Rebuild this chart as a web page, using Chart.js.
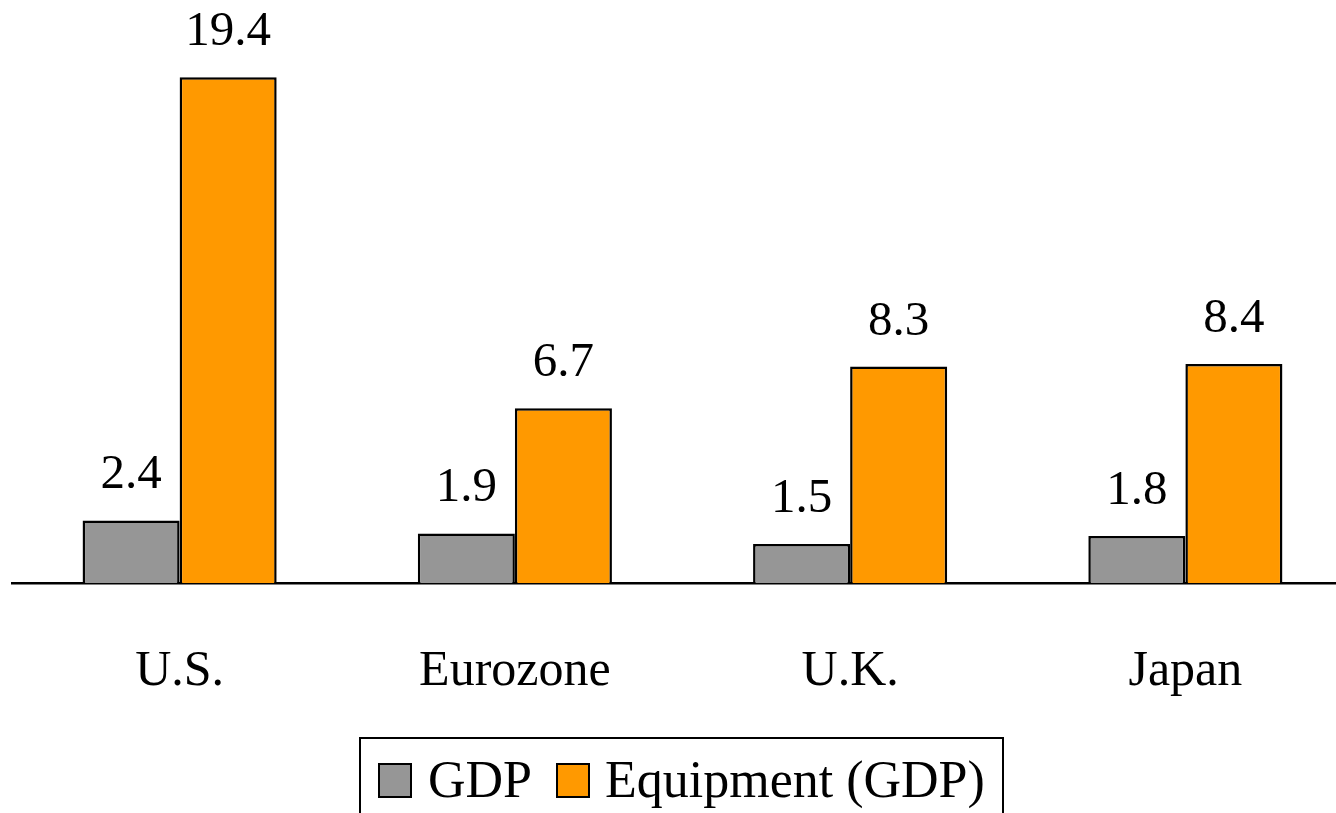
<!DOCTYPE html>
<html>
<head>
<meta charset="utf-8">
<script src="https://cdn.jsdelivr.net/npm/chart.js@4/dist/chart.umd.min.js"></script>
<style>
    body {
        margin: 0;
        overflow: hidden;
        background: #fff;
    }
    #wrap {
        position: relative;
        width: 1353px;
        height: 813px;
    }
    #legend {
        position: absolute;
        left: 359px;
        top: 737px;
        width: 641px;
        height: 100px;
        border: 2px solid #000;
        border-bottom: none;
        font-family: "Liberation Serif", "Times New Roman", serif;
        font-size: 52px;
        color: #000;
    }
    .item {
        position: absolute;
        top: 0;
        height: 100px;
    }
    .swatch {
        position: absolute;
        top: 24px;
        width: 30px;
        height: 31px;
        border: 2px solid #000;
    }
    .label {
        position: absolute;
        top: 15px;
        line-height: 52px;
        white-space: nowrap;
    }
</style>
</head>
<body>
<div id="wrap">
    <canvas id="chart" width="1353" height="813"></canvas>
    <div id="legend"></div>
</div>
<script>
const categories = ['U.S.', 'Eurozone', 'U.K.', 'Japan'];
const gdpValues = [2.4, 1.9, 1.5, 1.8];
const equipmentValues = [19.4, 6.7, 8.3, 8.4];
const seriesNames = ['GDP', 'Equipment (GDP)'];
const seriesColors = ['#969696', '#FF9900'];

const serif = '"Liberation Serif", "Times New Roman", serif';

// Writes each bar's value above it
const valueLabels = {
    id: 'valueLabels',
    afterDatasetsDraw(chart) {
        const ctx = chart.ctx;
        ctx.save();
        ctx.font = '49px ' + serif;
        ctx.fillStyle = '#000';
        ctx.textAlign = 'center';
        ctx.textBaseline = 'alphabetic';
        chart.data.datasets.forEach((ds, i) => {
            chart.getDatasetMeta(i).data.forEach((bar, j) => {
                ctx.fillText(ds.data[j].toFixed(1), bar.x, bar.y - 32);
            });
        });
        ctx.restore();
    }
};

const ctx = document.getElementById('chart').getContext('2d');
const chart = new Chart(ctx, {
    type: 'bar',
    data: {
        labels: categories,
        datasets: [
            {
                label: seriesNames[0],
                data: gdpValues,
                backgroundColor: seriesColors[0],
                borderColor: '#000',
                borderWidth: 2.5,
            },
            {
                label: seriesNames[1],
                data: equipmentValues,
                backgroundColor: seriesColors[1],
                borderColor: '#000',
                borderWidth: 2.5,
            }
        ]
    },
    options: {
        responsive: false,
        animation: false,
        layout: {
            padding: { left: 12, top: 12, right: 0, bottom: 0 }
        },
        datasets: {
            bar: {
                categoryPercentage: 0.579,
                barPercentage: 1,
            }
        },
        plugins: {
            legend: { display: false },
            tooltip: { enabled: false },
        },
        scales: {
            x: {
                grid: { display: false, drawTicks: false },
                border: { display: true, color: '#000', width: 2.5 },
                ticks: {
                    color: '#000',
                    padding: 59,
                    font: { family: serif, size: 50 },
                },
                afterFit(scale) {
                    scale.height = 230;
                }
            },
            y: {
                display: false,
                min: 0,
                max: 21.9,
            }
        }
    },
    plugins: [valueLabels]
});

// Legend box below the axis
const legend = document.getElementById('legend');
const itemLefts = [17, 195];
const labelOffsets = [50, 49];
chart.data.datasets.forEach((ds, i) => {
    const item = document.createElement('div');
    item.className = 'item';
    item.style.left = itemLefts[i] + 'px';
    item.innerHTML = `<div class="swatch" style="background:${ds.backgroundColor}"></div>` +
        `<div class="label" style="left:${labelOffsets[i]}px">${ds.label}</div>`;
    legend.appendChild(item);
});
</script>
</body>
</html>
